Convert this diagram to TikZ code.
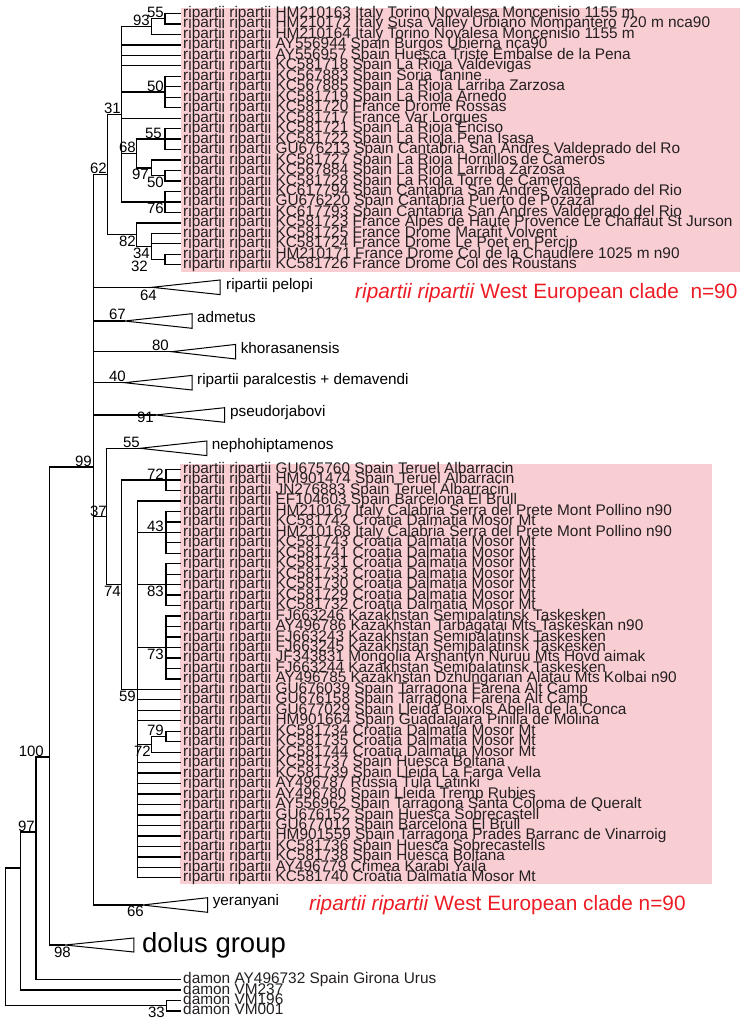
\documentclass[tikz,border=0pt]{standalone}
\usepackage{fontspec}
\setmainfont{Liberation Sans}
\definecolor{pinkbg}{RGB}{249,206,211}
\definecolor{cladered}{RGB}{237,28,36}
\definecolor{leafink}{RGB}{35,31,32}
\begin{document}
\begin{tikzpicture}[x=1pt,y=-1pt,
  br/.style={line width=1.3pt},
  tri/.style={line width=1pt, line join=miter},
  leaf/.style={anchor=west, inner xsep=2pt, inner ysep=0pt, text height=11.2pt, text depth=3.2pt, text=leafink, font=\fontsize{15.4}{15.4}\selectfont},
  clab/.style={anchor=west, inner sep=0pt, text height=11pt, text depth=3.2pt, font=\fontsize{15.3}{15.3}\selectfont},
  sup/.style={inner sep=0pt, font=\fontsize{15}{15}\selectfont},
  redlab/.style={anchor=base west, inner sep=0pt, text=cladered, font=\fontsize{20.8}{20.8}\selectfont}]
\useasboundingbox (0,0) rectangle (755,1027);
% pink boxes
\fill[pinkbg] (181,8) rectangle (740,272);
\fill[pinkbg] (180,464) rectangle (712,884);
% top leaves
\foreach \t [count=\i] in {HM210163 Italy Torino Novalesa Moncenisio 1155 m,
 HM210172 Italy Susa Valley Urbiano Mompantero 720 m nca90,
 HM210164 Italy Torino Novalesa Moncenisio 1155 m,
 AY556944 Spain Burgos Ubierna nca90,
 AY556957 Spain Huesca Triste Embalse de la Pena,
 KC581718 Spain La Rioja Valdevigas,
 KC567883 Spain Soria Tanine,
 KC567885 Spain La Rioja Larriba Zarzosa,
 KC581719 Spain La Rioja Arnedo,
 KC581720 France Drome Rossas,
 KC581717 France Var Lorgues,
 KC581721 Spain La Rioja Enciso,
 KC581722 Spain La Rioja Pena Isasa,
 GU676213 Spain Cantabria San Andres Valdeprado del Ro,
 KC581727 Spain La Rioja Hornillos de Cameros,
 KC567884 Spain La Rioja Larriba Zarzosa,
 KC581728 Spain La Rioja Torre de Cameros,
 KC617794 Spain Cantabria San Andres Valdeprado del Rio,
 GU676220 Spain Cantabria Puerto de Pozazal,
 KC617793 Spain Cantabria San Andres Valdeprado del Rio,
 KC581723 France Alpes de Haute Provence Le Chaffaut St Jurson,
 KC581725 France Drome Marafit Volvent,
 KC581724 France Drome Le Poet en Percip,
 HM210171 France Drome Col de la Chaudiere 1025 m n90,
 KC581726 France Drome Col des Roustans}
  \node[leaf] (T\i) at (181,{13.5+(\i-1)*10.47}) {ripartii ripartii \t};
% bottom leaves
\foreach \t [count=\i] in {GU675760 Spain Teruel Albarracin,
 HM901474 Spain Teruel Albarracin,
 JN276883 Spain Teruel Albarracin,
 EF104603 Spain Barcelona El Brull,
 HM210167 Italy Calabria Serra del Prete Mont Pollino n90,
 KC581742 Croatia Dalmatia Mosor Mt,
 HM210168 Italy Calabria Serra del Prete Mont Pollino n90,
 KC581743 Croatia Dalmatia Mosor Mt,
 KC581741 Croatia Dalmatia Mosor Mt,
 KC581731 Croatia Dalmatia Mosor Mt,
 KC581733 Croatia Dalmatia Mosor Mt,
 KC581730 Croatia Dalmatia Mosor Mt,
 KC581729 Croatia Dalmatia Mosor Mt,
 KC581732 Croatia Dalmatia Mosor Mt,
 FJ663246 Kazakhstan Semipalatinsk Taskesken,
 AY496786 Kazakhstan Tarbagatai Mts Taskeskan n90,
 FJ663243 Kazakhstan Semipalatinsk Taskesken,
 FJ663245 Kazakhstan Semipalatinsk Taskesken,
 JF343831 Mongolia Arshantyn Nuruu Mts Hovd aimak,
 FJ663244 Kazakhstan Semipalatinsk Taskesken,
 AY496785 Kazakhstan Dzhungarian Alatau Mts Kolbai n90,
 GU676039 Spain Tarragona Farena Alt Camp,
 GU676158 Spain Tarragona Farena Alt Camp,
 GU677029 Spain Lleida Boixols Abella de la Conca,
 HM901664 Spain Guadalajara Pinilla de Molina,
 KC581734 Croatia Dalmatia Mosor Mt,
 KC581735 Croatia Dalmatia Mosor Mt,
 KC581744 Croatia Dalmatia Mosor Mt,
 KC581737 Spain Huesca Boltana,
 KC581739 Spain Lleida La Farga Vella,
 AY496787 Russia Tula Latinki,
 AY496780 Spain Lleida Tremp Rubies,
 AY556962 Spain Tarragona Santa Coloma de Queralt,
 GU676152 Spain Huesca Sobrecastell,
 GU677012 Spain Barcelona El Brull,
 HM901559 Spain Tarragona Prades Barranc de Vinarroig,
 KC581736 Spain Huesca Sobrecastells,
 KC581738 Spain Huesca Boltana,
 AY496779 Crimea Karabi Yaila,
 KC581740 Croatia Dalmatia Mosor Mt}
  \node[leaf] (B\i) at (181,{469.5+(\i-1)*10.47}) {ripartii ripartii \t};
% damon leaves
\node[leaf] (D1) at (181,979.5) {damon AY496732 Spain Girona Urus};
\node[leaf] (D2) at (181,990) {damon VM237};
\node[leaf] (D3) at (181,1000.4) {damon VM196};
\node[leaf] (D4) at (181,1010.9) {damon VM001};
% internal nodes, top clade
\coordinate (n55a) at (165,18.74);
\coordinate (n93) at (151.7,26.59);
\coordinate (n50a) at (165,92.03);
\coordinate (n55b) at (165,139.14);
\coordinate (n50b) at (165,175.79);
\coordinate (n97) at (151.7,167.93);
\coordinate (n68) at (136.7,153.5);
\coordinate (n76) at (165,201.96);
\coordinate (n31) at (121.7,114.27);
\coordinate (n32) at (165,259.55);
\coordinate (n34) at (151.7,246.46);
\coordinate (n82) at (136.7,234.68);
\coordinate (n62) at (107.7,174.5);
% bottom clade
\coordinate (n72a) at (166,479.97);
\coordinate (n43) at (166,532.32);
\coordinate (n83) at (166,584.67);
\coordinate (n73) at (166,647.49);
\coordinate (n79) at (166,736.5);
\coordinate (n72b) at (151.7,744.35);
\coordinate (n59) at (137.3,689.37);
\coordinate (n74) at (121.7,584.67);
\coordinate (n37) at (106.7,516.5);
\coordinate (n99) at (93.3,467);
% deeper nodes
\coordinate (nA) at (49.8,757);
\coordinate (nB) at (36,832);
\coordinate (nC) at (20.8,868);
\coordinate (nR) at (5.8,936);
\coordinate (n33) at (166.7,1005.65);
% collapsed clade apices
\coordinate (cPel) at (152,287.3);
\coordinate (cAdm) at (124.6,321);
\coordinate (cKho) at (171.5,351.7);
\coordinate (cPar) at (124.6,382.7);
\coordinate (cPse) at (155.6,415);
\coordinate (cNep) at (140,448.3);
\coordinate (cYer) at (142.5,905);
\coordinate (cDol) at (65.2,945);
% branches top clade
\foreach \i in {1,2} \draw[br] (n55a) |- (T\i.west);
\draw[br] (n93) |- (n55a);
\draw[br] (n93) |- (T3.west);
\foreach \i in {4,5,6,11} \draw[br] (n31) |- (T\i.west);
\foreach \c in {n93,n50a,n68,n76} \draw[br] (n31) |- (\c);
\foreach \i in {7,8,9,10} \draw[br] (n50a) |- (T\i.west);
\draw[br] (n68) |- (n55b);
\draw[br] (n68) |- (n97);
\foreach \i in {12,13,14} \draw[br] (n55b) |- (T\i.west);
\draw[br] (n97) |- (T15.west);
\draw[br] (n97) |- (n50b);
\foreach \i in {16,17} \draw[br] (n50b) |- (T\i.west);
\foreach \i in {18,19,20} \draw[br] (n76) |- (T\i.west);
\draw[br] (n62) |- (n31);
\draw[br] (n62) |- (n82);
\draw[br] (n82) |- (T21.west);
\draw[br] (n82) |- (n34);
\foreach \i in {22,23} \draw[br] (n34) |- (T\i.west);
\draw[br] (n34) |- (n32);
\foreach \i in {24,25} \draw[br] (n32) |- (T\i.west);
% branches bottom clade
\foreach \i in {1,2,3} \draw[br] (n72a) |- (B\i.west);
\foreach \i in {5,...,9} \draw[br] (n43) |- (B\i.west);
\foreach \i in {10,...,14} \draw[br] (n83) |- (B\i.west);
\foreach \i in {15,...,21} \draw[br] (n73) |- (B\i.west);
\foreach \i in {26,27} \draw[br] (n79) |- (B\i.west);
\draw[br] (n72b) |- (n79);
\draw[br] (n72b) |- (B28.west);
\foreach \i in {4,22,23,24,25,29,30,31,32,33,34,35,36,37,38,39,40} \draw[br] (n59) |- (B\i.west);
\foreach \c in {n43,n83,n73,n72b} \draw[br] (n59) |- (\c);
\draw[br] (n74) |- (n72a);
\draw[br] (n74) |- (n59);
\draw[br] (n37) |- (cNep);
\draw[br] (n37) |- (n74);
\foreach \c in {n62,cPel,cAdm,cKho,cPar,cPse,n37,cYer} \draw[br] (n99) |- (\c);
% deep branches
\draw[br] (nA) |- (n99);
\draw[br] (nA) |- (cDol);
\draw[br] (nB) |- (nA);
\draw[br] (nB) |- (D1.west);
\draw[br] (nC) |- (nB);
\draw[br] (nC) |- (D2.west);
\draw[br] (nR) |- (nC);
\draw[br] (nR) |- (n33);
\draw[br] (n33) |- (D3.west);
\draw[br] (n33) |- (D4.west);
% collapsed triangles
\draw[tri] (cPel) -- ++(68,-7.3) -- ++(0,14.6) -- cycle;
\draw[tri] (cAdm) -- ++(67.4,-7.3) -- ++(0,14.6) -- cycle;
\draw[tri] (cKho) -- ++(64.2,-7.3) -- ++(0,14.6) -- cycle;
\draw[tri] (cPar) -- ++(67.4,-7.3) -- ++(0,14.6) -- cycle;
\draw[tri] (cPse) -- ++(69,-7.3) -- ++(0,14.6) -- cycle;
\draw[tri] (cNep) -- ++(66.8,-7.3) -- ++(0,14.6) -- cycle;
\draw[tri] (cYer) -- ++(65.2,-7.3) -- ++(0,14.6) -- cycle;
\draw[tri] (cDol) -- ++(68.6,-7) -- ++(0,14) -- cycle;
\node[clab] (lPel) at (226,285.3) {ripartii pelopi};
\node[clab] (lAdm) at (197,319) {admetus};
\node[clab] (lKho) at (240.6,350) {khorasanensis};
\node[clab] (lPar) at (197,380.7) {ripartii paralcestis + demavendi};
\node[clab] (lPse) at (230,413) {pseudorjabovi};
\node[clab] (lNep) at (211.6,446) {nephohiptamenos};
\node[clab] (lYer) at (212.6,902) {yeranyani};
\node[anchor=west, inner sep=0pt, font=\fontsize{27.5}{27.5}\selectfont] (lDol) at (142,945.5) {dolus group};
% red labels
\node[redlab] (red1) at (355,298.5) {\textit{ripartii ripartii} West European clade\ \ n=90};
\node[redlab] (red2) at (309,910) {\textit{ripartii ripartii} West European clade n=90};
% support values
\node[sup, anchor=south east] (s55a) at (164,18) {55};
\node[sup, anchor=south east] (s93) at (150,26) {93};
\node[sup, anchor=south east] (s50a) at (164,91.5) {50};
\node[sup, anchor=south east] (s31) at (121,113.5) {31};
\node[sup, anchor=south east] (s55b) at (162,138.5) {55};
\node[sup, anchor=south east] (s68) at (136,153) {68};
\node[sup, anchor=north east] (s97) at (149,169) {97};
\node[sup, anchor=north east] (s50b) at (164,176.5) {50};
\node[sup, anchor=north east] (s76) at (164,203) {76};
\node[sup, anchor=south east] (s62) at (107,174) {62};
\node[sup, anchor=north east] (s82) at (136,235.5) {82};
\node[sup, anchor=north east] (s34) at (150,247.5) {34};
\node[sup, anchor=north east] (s32) at (148,261) {32};
\node[sup, anchor=north east] (s64) at (157,290) {64};
\node[sup, anchor=south east] (s67) at (126,320) {67};
\node[sup, anchor=south east] (s80) at (169,351) {80};
\node[sup, anchor=south east] (s40) at (126,382) {40};
\node[sup, anchor=east] (s91) at (154,417) {91};
\node[sup, anchor=south east] (s55c) at (140,447.5) {55};
\node[sup, anchor=south east] (s99) at (92,466.5) {99};
\node[sup, anchor=south east] (s37) at (107,517) {37};
\node[sup, anchor=south east] (s72a) at (164,479.5) {72};
\node[sup, anchor=south east] (s43) at (164,531.8) {43};
\node[sup, anchor=north east] (s74) at (121,585.5) {74};
\node[sup, anchor=north east] (s83) at (164,585.5) {83};
\node[sup, anchor=north east] (s73) at (164,648.5) {73};
\node[sup, anchor=north east] (s59) at (136,690.5) {59};
\node[sup, anchor=south east] (s79) at (164,736) {79};
\node[sup, anchor=north east] (s72b) at (151,745.5) {72};
\node[sup, anchor=north east] (s66) at (144,906) {66};
\node[sup, anchor=north east] (s98) at (71,946.5) {98};
\node[sup, anchor=north east] (s33) at (165,1007) {33};
\node[sup, anchor=south east] (s100) at (44,756.5) {100};
\node[sup, anchor=south east] (s97b) at (35,831.5) {97};
\end{tikzpicture}
\end{document}
